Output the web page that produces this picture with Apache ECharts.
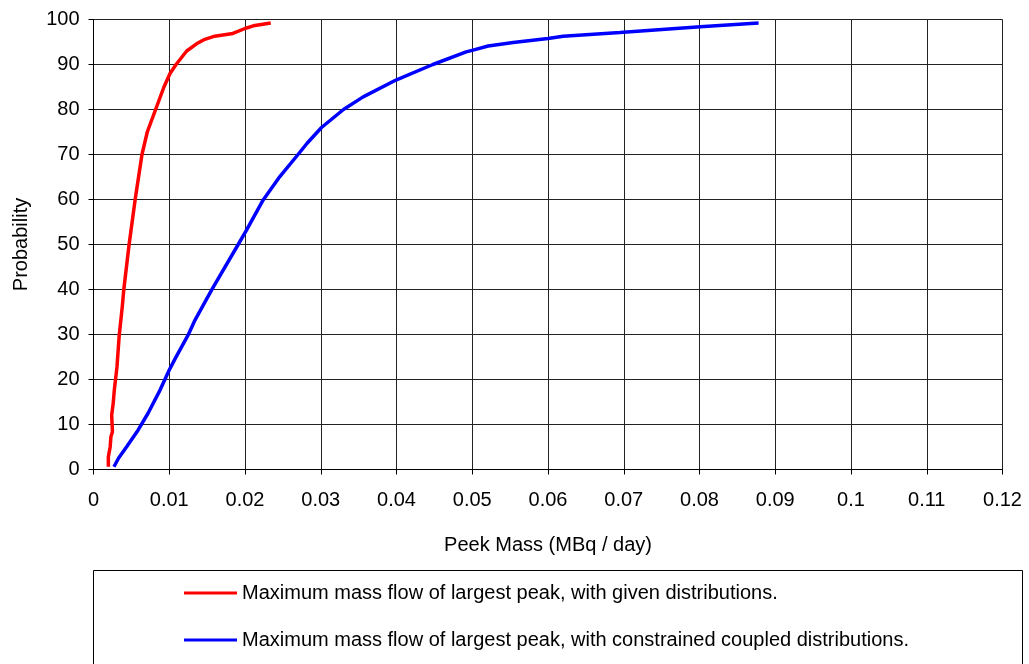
<!DOCTYPE html>
<html>
<head>
<meta charset="utf-8">
<title>Peek Mass probability</title>
<script src="https://cdn.jsdelivr.net/npm/echarts@6/dist/echarts.min.js"></script>
<style>
  html, body { margin: 0; padding: 0; background: #fff; }
  #chart { width: 1029px; height: 664px; }
</style>
</head>
<body>
<div id="chart"></div>
<script>
// Cumulative probability (%) against peak mass flow (MBq / day)
const givenMass = [0.00196, 0.00196, 0.0022, 0.0023, 0.0025, 0.0024, 0.0026, 0.00275, 0.0031, 0.0034, 0.0038, 0.0040, 0.0047, 0.0055, 0.0064, 0.0071, 0.0082, 0.0093, 0.0101, 0.0109, 0.0123, 0.0136, 0.0147, 0.0160, 0.0184, 0.0200, 0.0211, 0.0234];
const givenProb = [0.6, 2.8, 5.0, 7.3, 8.4, 12.1, 14.7, 17.7, 22.8, 29.9, 36.2, 40, 50, 60, 70, 75, 80, 85, 88, 90, 93, 94.6, 95.6, 96.3, 96.9, 98.0, 98.6, 99.2];

const coupledMass = [0.0027, 0.0033, 0.0044, 0.0059, 0.0072, 0.0088, 0.0100, 0.0108, 0.0125, 0.0134, 0.0156, 0.0191, 0.0202, 0.0224, 0.0246, 0.0270, 0.0282, 0.0301, 0.0330, 0.0356, 0.0400, 0.0448, 0.0492, 0.0501, 0.0521, 0.0554, 0.0600, 0.0620, 0.0695, 0.0801, 0.0878];
const coupledProb = [0.6, 2.5, 5.1, 8.8, 12.5, 17.7, 22.1, 24.7, 29.9, 33.2, 39.9, 50.0, 53.2, 59.9, 65.1, 70.0, 72.5, 76.0, 80.0, 82.8, 86.6, 90.0, 92.8, 93.2, 94.1, 94.9, 95.8, 96.3, 97.1, 98.4, 99.2];

const seriesNames = [
  'Maximum mass flow of largest peak, with given distributions.',
  'Maximum mass flow of largest peak, with constrained coupled distributions.'
];

const pairs = (xs, ys) => xs.map((x, i) => [x, ys[i]]);
const FONT = '"Liberation Sans", Arial, sans-serif';
const INK = '#000';
const GRIDC = '#222';

const chart = echarts.init(document.getElementById('chart'), null, { renderer: 'canvas' });

chart.setOption({
  animation: false,
  backgroundColor: '#fff',
  textStyle: { fontFamily: FONT, color: INK },
  grid: { left: 93.5, right: 26.5, top: 19.5, bottom: 194.5, containLabel: false },
  xAxis: {
    type: 'value',
    min: 0, max: 0.12, interval: 0.01,
    name: 'Peek Mass (MBq / day)',
    nameLocation: 'middle',
    nameGap: 66,
    nameTextStyle: { fontFamily: FONT, fontSize: 20, color: INK },
    axisLine: { show: true, onZero: false, lineStyle: { color: INK, width: 1 } },
    axisTick: { show: true, inside: false, length: 5, lineStyle: { color: INK } },
    axisLabel: {
      fontFamily: FONT, fontSize: 20, color: INK, margin: 21,
      formatter: v => String(parseFloat(v.toFixed(2)))
    },
    splitLine: { show: true, lineStyle: { color: GRIDC, width: 1 } }
  },
  yAxis: {
    type: 'value',
    min: 0, max: 100, interval: 10,
    name: 'Probability',
    nameLocation: 'middle',
    nameGap: 62,
    nameTextStyle: { fontFamily: FONT, fontSize: 20, color: INK },
    axisLine: { show: true, onZero: false, lineStyle: { color: INK, width: 1 } },
    axisTick: { show: true, inside: false, length: 5, lineStyle: { color: INK } },
    axisLabel: { fontFamily: FONT, fontSize: 20, color: INK, margin: 14 },
    splitLine: { show: true, lineStyle: { color: GRIDC, width: 1 } }
  },
  legend: {
    orient: 'vertical',
    left: 184, top: 583,
    padding: 0,
    itemGap: 27,
    itemWidth: 53, itemHeight: 3,
    icon: 'rect',
    textStyle: { fontFamily: FONT, fontSize: 20, color: INK, lineHeight: 20 },
    data: seriesNames
  },
  graphic: [{
    type: 'rect',
    shape: { x: 93.5, y: 570.5, width: 929, height: 130 },
    style: { fill: 'none', stroke: '#000', lineWidth: 1 },
    silent: true
  }],
  series: [
    {
      name: seriesNames[0],
      type: 'line',
      data: pairs(givenMass, givenProb),
      symbol: 'none',
      lineStyle: { color: '#ff0000', width: 3.5 },
      itemStyle: { color: '#ff0000' }
    },
    {
      name: seriesNames[1],
      type: 'line',
      data: pairs(coupledMass, coupledProb),
      symbol: 'none',
      lineStyle: { color: '#0000ff', width: 3.5 },
      itemStyle: { color: '#0000ff' }
    }
  ]
});
</script>
</body>
</html>
